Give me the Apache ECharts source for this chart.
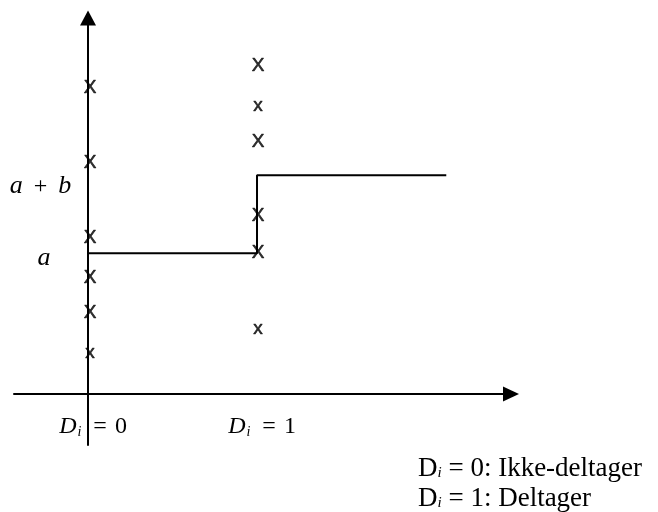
<!DOCTYPE html>
<html>
<head>
<meta charset="utf-8">
<script src="https://cdn.jsdelivr.net/npm/echarts@6/dist/echarts.min.js"></script>
<style>
  html, body { margin: 0; padding: 0; background: #fff; }
  #main { width: 658px; height: 512px; }
</style>
</head>
<body>
<div id="main"></div>
<script>
const yNonPart = [6.0, 4.53, 3.06, 2.27, 1.59, 0.80];
const glyphNonPart = ['X', 'X', 'X', 'X', 'X', 'x'];
const yPart = [6.43, 5.65, 4.94, 3.49, 2.76, 1.27];
const glyphPart = ['X', 'x', 'X', 'X', 'X', 'x'];

// fitted levels
const levelA = 2.76;
const levelAB = 4.29;
const lineEndX = 2.12;

// tick labels
const xTickValues = [0, 1];
const xTickLabels = ['0', '1'];
const yTickValues = [levelA, levelAB];
const yTickLabels = ['a', 'a + b'];

// legend text at bottom right
const legendValues = ['0', '1'];
const legendNames = ['Ikke-deltager', 'Deltager'];

const mathFont = '"Liberation Serif", "DejaVu Serif", serif';

function scatterData(ys, glyphs, xVal) {
  return ys.map((y, i) => ({ value: [xVal, y], name: glyphs[i] }));
}

function glyphLabel(dx) {
  return {
    show: true,
    position: 'inside',
    offset: [dx, 0],
    formatter: (p) => p.name,
    fontFamily: '"Liberation Sans", Arial, sans-serif',
    fontSize: 19,
    color: '#000',
    textBorderWidth: 0.6,
    textBorderColor: '#000',
  };
}

const chart = echarts.init(document.getElementById('main'), null, { renderer: 'canvas' });

const option = {
  animation: false,
  backgroundColor: '#fff',
  grid: {
    left: 14,
    right: 147,
    top: 18,
    bottom: 67,
    containLabel: false,
    outerBoundsMode: 'none',
  },
  xAxis: {
    type: 'value',
    min: -0.438,
    max: 2.503,
    splitLine: { show: false },
    axisTick: { show: false },
    axisLine: {
      show: true,
      onZero: true,
      symbol: ['none', 'triangle'],
      symbolSize: [15, 16],
      lineStyle: { color: '#000', width: 2 },
    },
    axisLabel: {
      customValues: xTickValues,
      margin: -31,
      formatter: (v) => {
        const idx = xTickValues.indexOf(v);
        return '{d|D}{sub|i}{eq|=}{n|' + xTickLabels[idx] + '}';
      },
      rich: {
        d: { fontFamily: mathFont, fontStyle: 'italic', fontSize: 24, color: '#000', padding: [0, 0, 0, 10] },
        sub: { fontFamily: mathFont, fontStyle: 'italic', fontSize: 14, color: '#000', padding: [11, 0, 0, 1] },
        eq: { fontFamily: mathFont, fontSize: 24, color: '#000', padding: [0, 8, 0, 12] },
        n: { fontFamily: mathFont, fontSize: 24, color: '#000' },
      },
    },
  },
  yAxis: {
    type: 'value',
    min: -1,
    max: 7.373,
    splitLine: { show: false },
    axisTick: { show: false },
    axisLine: {
      show: true,
      onZero: true,
      symbol: ['none', 'triangle'],
      symbolSize: [16, 15],
      lineStyle: { color: '#000', width: 2 },
    },
    axisLabel: {
      customValues: yTickValues,
      margin: -30,
      align: 'center',
      formatter: (v) => {
        const idx = yTickValues.indexOf(v);
        const txt = yTickLabels[idx];
        if (txt === 'a') return '{a|a}';
        return '{ab|a}{op|+}{b|b}';
      },
      rich: {
        a: { fontFamily: mathFont, fontStyle: 'italic', fontSize: 26, color: '#000', padding: [10, 0, 0, 0] },
        ab: { fontFamily: mathFont, fontStyle: 'italic', fontSize: 26, color: '#000', padding: [22, 0, 0, 0] },
        b: { fontFamily: mathFont, fontStyle: 'italic', fontSize: 26, color: '#000', padding: [22, 7, 0, 0] },
        op: { fontFamily: mathFont, fontSize: 24, color: '#000', padding: [22, 11, 0, 11] },
      },
    },
  },
  series: [
    {
      type: 'line',
      step: 'end',
      data: [[0, levelA], [1, levelAB], [lineEndX, levelAB]],
      symbol: 'none',
      lineStyle: { color: '#000', width: 2 },
      z: 3,
    },
    {
      type: 'scatter',
      data: scatterData(yNonPart, glyphNonPart, 0),
      symbolSize: 1,
      itemStyle: { color: 'rgba(0,0,0,0)' },
      label: glyphLabel(2),
      z: 4,
    },
    {
      type: 'scatter',
      data: scatterData(yPart, glyphPart, 1),
      symbolSize: 1,
      itemStyle: { color: 'rgba(0,0,0,0)' },
      label: glyphLabel(1),
      z: 4,
    },
  ],
  graphic: [
    {
      type: 'text',
      left: 418,
      top: 455,
      style: {
        text: legendValues.map((v, i) => '{d|D}{sub|i}{t| = ' + v + ': ' + legendNames[i] + '}').join('\n'),
        rich: {
          d: { fontFamily: mathFont, fontSize: 27, color: '#000', lineHeight: 30 },
          sub: { fontFamily: mathFont, fontStyle: 'italic', fontSize: 15, color: '#000', lineHeight: 30, padding: [9, 0, 0, 0] },
          t: { fontFamily: mathFont, fontSize: 27, color: '#000', lineHeight: 30 },
        },
      },
    },
  ],
};

chart.setOption(option);
</script>
</body>
</html>
